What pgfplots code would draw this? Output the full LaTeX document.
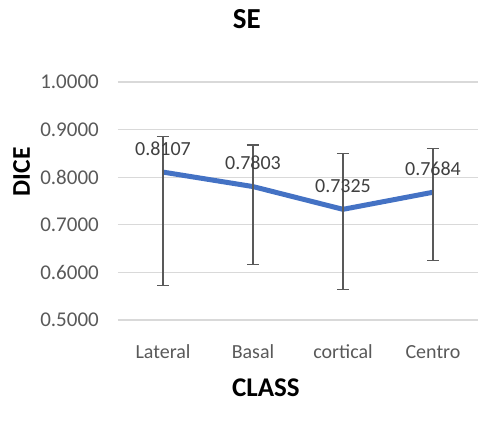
\documentclass[border=0pt]{standalone}
\usepackage{pgfplots}
\pgfplotsset{compat=1.18}
\usepackage{fontspec}
\setmainfont{Carlito}
\definecolor{lineblue}{HTML}{4472C4}
\definecolor{ticktext}{HTML}{595959}
\definecolor{labtext}{HTML}{404040}
\definecolor{gridc}{HTML}{D9D9D9}
\definecolor{errc}{HTML}{595959}
\begin{document}
\begin{tikzpicture}
\begin{axis}[
  scale only axis,
  width=360pt, height=238pt,
  xmin=-0.5, xmax=3.5,
  ymin=0.5, ymax=1.0,
  xtick={0,1,2,3},
  xticklabels={Lateral,Basal,cortical,Centro},
  ytick={0.5,0.6,0.7,0.8,0.9,1.0},
  yticklabel={\pgfmathprintnumber[fixed,fixed zerofill,precision=4]{\tick}},
  /pgf/number format/assume math mode=true,
  axis line style={draw=none},
  major tick length=0pt,
  ymajorgrids,
  grid style={draw=gridc, line width=1.3pt},
  tick label style={font=\fontsize{20}{24}\selectfont, text=ticktext},
  yticklabel style={anchor=east, inner sep=0pt, xshift=-19pt, font=\fontsize{21}{24}\selectfont},
  xticklabel style={anchor=center, inner sep=0pt, yshift=-32pt},
  title={SE},
  title style={font=\fontsize{29}{34}\selectfont\bfseries, at={(rel axis cs:0.358,1)}, anchor=center, yshift=57.3pt, inner sep=0pt},
  xlabel={CLASS},
  xlabel style={font=\fontsize{27}{32}\selectfont\bfseries, at={(rel axis cs:0.411,0)}, anchor=center, yshift=-67.5pt, inner sep=0pt},
  ylabel={DICE},
  ylabel style={font=\fontsize{25.5}{30}\selectfont\bfseries, at={(rel axis cs:-0.2675,0.623)}, anchor=center, inner sep=0pt},
  clip=false,
]
\addplot[
  color=lineblue, line width=5pt, mark=none,
  error bars/.cd, y dir=both, y explicit,
  error bar style={draw=errc, line width=1.3pt},
  error mark options={draw=errc, rotate=90, mark size=6pt, line width=1.3pt},
] table[x=x, y=y, y error plus=ep, y error minus=em] {
x y ep em
0 0.8107 0.0753 0.2381
1 0.7803 0.0872 0.1641
2 0.7325 0.1175 0.1690
3 0.7684 0.0921 0.1437
};
\addplot[
  draw=none, mark=none,
  nodes near coords, point meta=explicit symbolic,
  every node near coord/.append style={font=\fontsize{20}{24}\selectfont, text=labtext, anchor=center, yshift=23.6pt, inner sep=0pt},
] table[x=x, y=y, meta=lab] {
x y lab
0 0.8107 0.8107
1 0.7803 0.7803
2 0.7325 0.7325
3 0.7684 0.7684
};
\end{axis}
\pgfresetboundingbox
\path (current axis.south west) ++(-118pt,-103pt) rectangle ++(493pt,423pt);
\end{tikzpicture}
\end{document}
